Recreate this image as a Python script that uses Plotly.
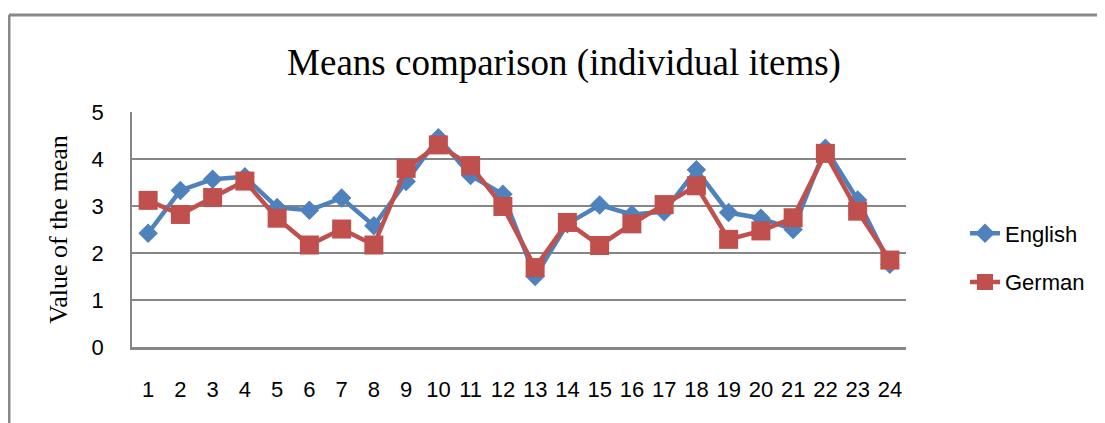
import plotly.graph_objects as go

items = [str(i) for i in range(1, 25)]
english = [2.42, 3.33, 3.57, 3.62, 2.97, 2.91, 3.17, 2.58, 3.52, 4.45, 3.65, 3.25,
           1.50, 2.62, 3.02, 2.82, 2.88, 3.77, 2.86, 2.74, 2.50, 4.23, 3.13, 1.76]
german = [3.12, 2.82, 3.18, 3.53, 2.74, 2.17, 2.51, 2.17, 3.80, 4.30, 3.86, 2.99,
          1.69, 2.65, 2.16, 2.62, 3.03, 3.43, 2.29, 2.47, 2.75, 4.12, 2.89, 1.85]
y_ticks = [0, 1, 2, 3, 4, 5]

sans = "Liberation Sans Narrow, Liberation Sans, Arial, sans-serif"
serif = "Liberation Serif, Times New Roman, serif"

W, H = 1097, 415
L, R, T, B = 124, 898, 104, 339
PW, PH = R - L, B - T

fig = go.Figure()
fig.add_trace(go.Scatter(
    x=items, y=english, name="English", mode="lines+markers",
    line=dict(color="#4F81BD", width=4.5),
    marker=dict(symbol="diamond", size=15, color="#4F81BD"),
    legendgroup="en"))
fig.add_trace(go.Scatter(
    x=items, y=german, name="German", mode="lines+markers",
    line=dict(color="#C0504D", width=4.5),
    marker=dict(symbol="square", size=19, color="#C0504D"),
    legendgroup="de"))

fig.update_layout(
    width=W, height=H,
    margin=dict(l=L, r=W - R, t=T, b=H - B),
    paper_bgcolor="white", plot_bgcolor="white",
    title=dict(text="Means comparison (individual items)",
               font=dict(family=serif, size=37, color="black"),
               x=556 / W, xanchor="center", y=1 - 54 / H, yanchor="middle"),
    xaxis=dict(type="category", range=[-0.5, 23.5], showgrid=False, zeroline=False,
               showline=True, linecolor="#868686", linewidth=2.5,
               ticks="", tickfont=dict(family=sans, size=22, color="black"),
               ticklabelstandoff=21),
    yaxis=dict(range=[0, 5], tickvals=y_ticks, showgrid=True,
               gridcolor="#868686", gridwidth=1.5, zeroline=False,
               showline=True, linecolor="#868686", linewidth=1.5,
               ticks="", tickfont=dict(family=sans, size=22, color="black"),
               ticklabelstandoff=22,
               title=dict(text="Value of the mean",
                          font=dict(family=serif, size=26, color="black"),
                          standoff=16)),
    legend=dict(x=(957 - L) / PW, xanchor="left", y=1 - (250 - T) / PH, yanchor="middle",
                font=dict(family=sans, size=22, color="black"),
                tracegroupgap=17, itemwidth=30, bgcolor="rgba(0,0,0,0)"),
    shapes=[
        dict(type="line", xref="paper", yref="paper",
             x0=(1 - L) / PW, x1=(W + 10 - L) / PW,
             y0=1 + (T - 7) / PH, y1=1 + (T - 7) / PH,
             line=dict(color="#888888", width=3)),
        dict(type="line", xref="paper", yref="paper",
             x0=(1 - L) / PW, x1=(1 - L) / PW,
             y0=1 + (T - 7) / PH, y1=-(H + 10 - B) / PH,
             line=dict(color="#888888", width=3)),
    ],
)

fig.write_html("out.html")
